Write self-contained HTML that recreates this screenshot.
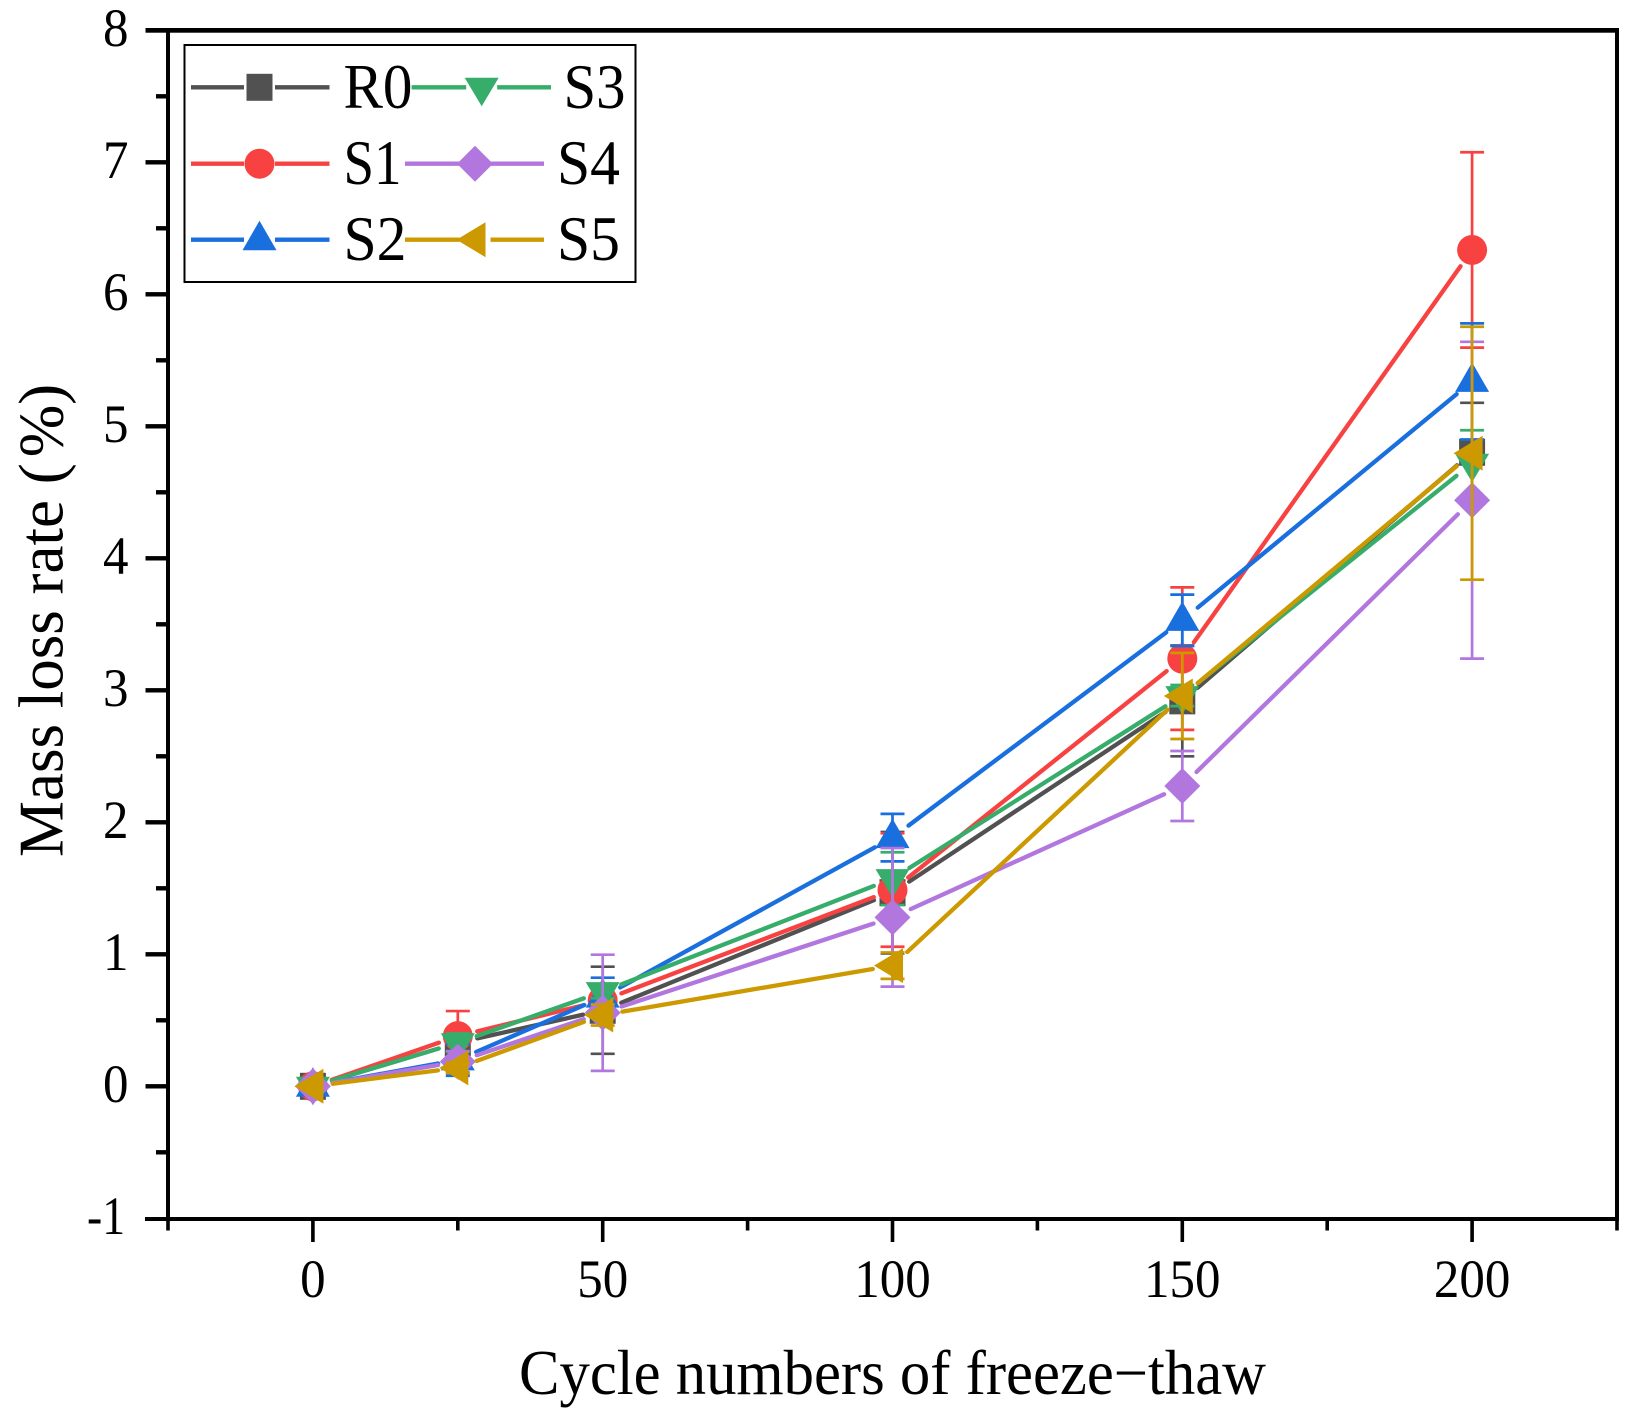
<!DOCTYPE html>
<html lang="en">
<head>
<meta charset="utf-8">
<title>Mass loss rate chart</title>
<style>
html,body{margin:0;padding:0;background:#fff;}
svg{display:block;font-family:"Liberation Serif",serif;}
</style>
</head>
<body>
<svg id="chart" xmlns="http://www.w3.org/2000/svg" width="1638" height="1422" viewBox="0 0 1638 1422">
<rect x="0" y="0" width="1638" height="1422" fill="#fff"/>
<g id="series-layer"></g>
<g id="axes-layer"></g>
<text transform="translate(62.7,857) rotate(-90)" font-size="63" fill="#000">Mass loss rate (<tspan dx="6">%</tspan>)</text>
<text x="519" y="1394" font-size="63" textLength="747" lengthAdjust="spacingAndGlyphs" fill="#000">Cycle numbers of freeze−thaw</text>
<g id="legend-layer"></g>
</svg>
<script>
const cycles = [0, 25, 50, 100, 150, 200];
const seriesNames = ["R0", "S1", "S2", "S3", "S4", "S5"];
const seriesColors = ["#515151", "#F84242", "#1A6FDF", "#37AD6B", "#B177DE", "#CC9900"];
const seriesMarkers = ["square", "circle", "up", "down", "diamond", "left"];

const valuesR0 = [0, 0.33, 0.576, 1.467, 2.92, 4.803];
const valuesS1 = [0, 0.38, 0.65, 1.487, 3.24, 6.336];
const valuesS2 = [0, 0.2, 0.676, 1.884, 3.53, 5.34];
const valuesS3 = [0, 0.33, 0.717, 1.573, 2.96, 4.72];
const valuesS4 = [0, 0.187, 0.557, 1.28, 2.275, 4.44];
const valuesS5 = [0, 0.14, 0.54, 0.914, 2.957, 4.796];

const errorsR0 = [0, 0.087, 0.33, 0.46, 0.42, 0.375];
const errorsS1 = [0, 0.19, 0.1, 0.43, 0.54, 0.74];
const errorsS2 = [0, 0.12, 0.147, 0.18, 0.195, 0.44];
const errorsS3 = [0, 0.07, 0.05, 0.2, 0.08, 0.25];
const errorsS4 = [0, 0.08, 0.44, 0.525, 0.265, 1.2];
const errorsS5 = [0, 0.04, 0.08, 0.1, 0.326, 0.958];

const yMajorTicks = [-1, 0, 1, 2, 3, 4, 5, 6, 7, 8];
const yMinorTicks = [-0.5, 0.5, 1.5, 2.5, 3.5, 4.5, 5.5, 6.5, 7.5];
const xMajorTicks = [0, 50, 100, 150, 200];
const xMinorTicks = [-25, 25, 75, 125, 175, 225];

const seriesValues = [valuesR0, valuesS1, valuesS2, valuesS3, valuesS4, valuesS5];
const seriesErrors = [errorsR0, errorsS1, errorsS2, errorsS3, errorsS4, errorsS5];

const NS = "http://www.w3.org/2000/svg";
const plot = {left: 168, right: 1617, top: 30.3, bottom: 1218.3};
const xDomain = [-25, 225];
const yDomain = [-1, 8];
function xScale(v) {
  return plot.left + (v - xDomain[0]) / (xDomain[1] - xDomain[0]) * (plot.right - plot.left);
}
function yScale(v) {
  return plot.bottom - (v - yDomain[0]) / (yDomain[1] - yDomain[0]) * (plot.bottom - plot.top);
}
function make(tag, attrs, parent) {
  const node = document.createElementNS(NS, tag);
  for (const k in attrs) node.setAttribute(k, attrs[k]);
  parent.appendChild(node);
  return node;
}
function markerShape(kind, cx, cy, color, parent) {
  let node;
  if (kind === "square") {
    node = make("rect", {x: cx - 13, y: cy - 13.5, width: 26, height: 27, fill: color}, parent);
  } else if (kind === "circle") {
    node = make("ellipse", {cx: cx, cy: cy, rx: 15, ry: 15, fill: color}, parent);
  } else {
    let pts;
    if (kind === "up") pts = [[0, -19], [17, 10.5], [-17, 10.5]];
    if (kind === "down") pts = [[-17, -9.5], [17, -9.5], [0, 19]];
    if (kind === "diamond") pts = [[0, -18], [18, 0], [0, 18], [-18, 0]];
    if (kind === "left") pts = [[-18.5, 0], [10.5, -17.5], [10.5, 17.5]];
    node = make("polygon", {points: pts.map(p => (cx + p[0]) + "," + (cy + p[1])).join(" "), fill: color}, parent);
  }
  return node;
}

const seriesLayer = document.getElementById("series-layer");
const gapRadius = 20;
seriesNames.forEach(function (name, s) {
  const color = seriesColors[s];
  const group = make("g", {}, seriesLayer);
  
  
  const vals = seriesValues[s];
  const errs = seriesErrors[s];
  for (let i = 0; i < cycles.length - 1; i++) {
    const x1 = xScale(cycles[i]), y1 = yScale(vals[i]);
    const x2 = xScale(cycles[i + 1]), y2 = yScale(vals[i + 1]);
    const d = Math.hypot(x2 - x1, y2 - y1);
    const ux = (x2 - x1) / d, uy = (y2 - y1) / d;
    const seg = make("line", {
      x1: x1 + ux * gapRadius, y1: y1 + uy * gapRadius,
      x2: x2 - ux * gapRadius, y2: y2 - uy * gapRadius,
      stroke: color, "stroke-width": 4.3, "stroke-linecap": "round"
    }, group);
    
    
  }
  cycles.forEach(function (c, i) {
    const px = xScale(c), py = yScale(vals[i]);
    const m = markerShape(seriesMarkers[s], px, py, color, group);
    
    
    if (errs[i] > 0) {
      const hi = yScale(vals[i] + errs[i]), lo = yScale(vals[i] - errs[i]);
      const bar = make("path", {
        d: "M" + px + " " + hi + "V" + lo + "M" + (px - 12) + " " + hi + "H" + (px + 12) + "M" + (px - 12) + " " + lo + "H" + (px + 12),
        fill: "none", stroke: color, "stroke-width": 2.7
      }, group);
      
      
    }
  });
});

const axes = document.getElementById("axes-layer");
const leftAxis = make("rect", {x: 166, y: 28, width: 4, height: 1192, fill: "#000"}, axes);


const rightAxis = make("rect", {x: 1615, y: 28, width: 4, height: 1192, fill: "#000"}, axes);


const topAxis = make("rect", {x: 145.5, y: 28, width: 1473.5, height: 4.7, fill: "#000"}, axes);


const bottomAxis = make("rect", {x: 145, y: 1217, width: 1474, height: 4, fill: "#000"}, axes);



yMajorTicks.forEach(function (v) {
  if (v > yDomain[0] && v < yDomain[1]) {
    const t = make("rect", {x: 145.5, y: yScale(v) - 2.2, width: 22.5, height: 4.4, fill: "#000"}, axes);
    
    
  }
  const str = String(v);
  const len = v < 0 ? 38 : 25.5 * str.length;
  const right = v < 0 ? 125 : 128.5;
  const label = make("text", {x: right - len, y: yScale(v) + 15.5, "font-size": 54, fill: "#000", textLength: len, lengthAdjust: "spacingAndGlyphs"}, axes);
  
  
  label.textContent = str;
});
yMinorTicks.forEach(function (v) {
  const t = make("rect", {x: 156, y: yScale(v) - 2.2, width: 12, height: 4.4, fill: "#000"}, axes);
  
  
});
xMajorTicks.forEach(function (v) {
  const t = make("rect", {x: xScale(v) - 1.8, y: 1219, width: 3.6, height: 23, fill: "#000"}, axes);
  
  
  const str = String(v);
  const len = 25.5 * str.length;
  const label = make("text", {x: xScale(v) - len / 2, y: 1297, "font-size": 54, fill: "#000", textLength: len, lengthAdjust: "spacingAndGlyphs"}, axes);
  
  
  label.textContent = str;
});
xMinorTicks.forEach(function (v) {
  const t = make("rect", {x: xScale(v) - 1.8, y: 1219, width: 3.6, height: 11.5, fill: "#000"}, axes);
  
  
});

const legend = document.getElementById("legend-layer");
const box = make("rect", {x: 184.5, y: 45, width: 451, height: 237, fill: "#fff", stroke: "#000", "stroke-width": 2}, legend);


const legendLayout = [
  {l: 191, r: 329.5, c: 259.5, y: 87.3, tx: 343.5, tw: 69, by: 108},
  {l: 191, r: 329.5, c: 259.5, y: 163.7, tx: 343.5, tw: 58, by: 184},
  {l: 191, r: 329.5, c: 259.5, y: 239.7, tx: 343.5, tw: 63, by: 260},
  {l: 411.6, r: 551, c: 481.7, y: 87.3, tx: 563.5, tw: 62, by: 108},
  {l: 405, r: 544, c: 475, y: 163.7, tx: 557, tw: 63, by: 184},
  {l: 405, r: 544, c: 475, y: 239.7, tx: 557, tw: 63, by: 260}
];
seriesNames.forEach(function (name, s) {
  const p = legendLayout[s];
  const color = seriesColors[s];
  const entry = make("g", {}, legend);
  
  
  const line = make("path", {
    d: "M" + p.l + " " + p.y + "H" + (p.c - 15.5) + "M" + (p.c + 15.5) + " " + p.y + "H" + p.r,
    stroke: color, "stroke-width": 4.3, fill: "none"
  }, entry);
  
  
  const m = markerShape(seriesMarkers[s], p.c, p.y, color, entry);
  
  
  const label = make("text", {x: p.tx, y: p.by, "font-size": 64, fill: "#000", textLength: p.tw, lengthAdjust: "spacingAndGlyphs"}, entry);
  
  
  label.textContent = name;
});
</script>
</body>
</html>
